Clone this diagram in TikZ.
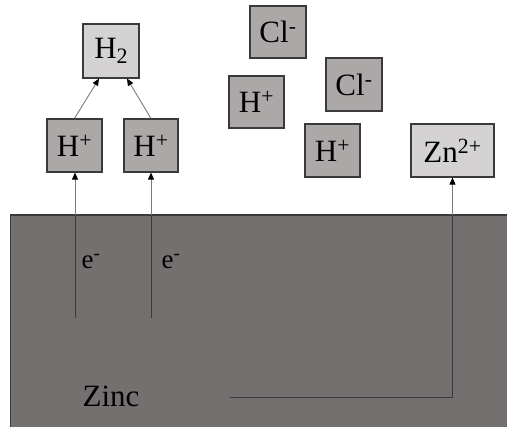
\documentclass[tikz,border=0pt]{standalone}
\usepackage{fontspec}
\setmainfont{Liberation Serif}
\usetikzlibrary{arrows.meta}
\definecolor{light}{HTML}{D4D2D2}
\definecolor{mid}{HTML}{ACA8A7}
\definecolor{zincc}{HTML}{74706F}
\definecolor{edge}{HTML}{3A3A3A}
\definecolor{arr}{HTML}{7A7A7A}
\tikzset{
  ion/.style={draw=edge, line width=1.2pt, inner sep=0pt, font=\fontsize{31}{36}\selectfont},
  lightion/.style={ion, fill=light},
  midion/.style={ion, fill=mid},
  tip/.style={-{Triangle[length=7pt,width=6pt,color=black]}},
  conn/.style={draw=arr, line width=0.9pt, tip},
  wire/.style={draw=edge, line width=0.9pt},
  lbl/.style={inner sep=0pt, font=\fontsize{27}{31}\selectfont},
}
\begin{document}
\begin{tikzpicture}[x=1pt,y=-1pt]
\useasboundingbox (0,0) rectangle (507,427);
\fill[white] (0,0) rectangle (507,427);
% zinc block
\path[fill=zincc, draw=edge, line width=1.5pt] (10.5,215) rectangle (515,435);
% ions
\node[lightion, minimum width=56pt, minimum height=54pt] (h2) at (111,51) {H\raisebox{-0.35ex}{\fontsize{22}{24}\selectfont 2}};
\node[midion, minimum width=55pt, minimum height=53pt] (hl) at (74.5,145.5) {H\textsuperscript{+}};
\node[midion, minimum width=54pt, minimum height=53pt] (hr) at (151,145.5) {H\textsuperscript{+}};
\node[midion, minimum width=56pt, minimum height=52pt] (cla) at (278,32) {Cl\textsuperscript{-}};
\node[midion, minimum width=55pt, minimum height=52pt] (hm) at (256.5,102) {H\textsuperscript{+}};
\node[midion, minimum width=56pt, minimum height=53pt] (clb) at (354,84.5) {Cl\textsuperscript{-}};
\node[midion, minimum width=55pt, minimum height=53pt] (hb) at (332.5,150.5) {H\textsuperscript{+}};
\node[lightion, minimum width=83pt, minimum height=53pt] (zn) at (452.5,150.5) {Zn\textsuperscript{2+}};
% H+ -> H2
\draw[conn] (hl.north) -- ([xshift=-12pt]h2.south);
\draw[conn] (hr.north) -- ([xshift=16pt]h2.south);
% electrons
\coordinate (e1) at (75,318);
\coordinate (e2) at (151,318);
\coordinate (t1) at (75,215);
\coordinate (t2) at (151,215);
\draw[wire] (e1) -- (t1);
\draw[wire] (e2) -- (t2);
\draw[conn] (t1) -- (t1 |- hl.south);
\draw[conn] (t2) -- (t2 |- hr.south);
\node[lbl] (el1) at (91,262) {e\textsuperscript{-}};
\node[lbl] (el2) at (171,262) {e\textsuperscript{-}};
% zinc label and Zn2+ path
\node[inner sep=0pt, font=\fontsize{31}{36}\selectfont] (zinc) at (111,396) {Zinc};
\coordinate (zs) at (230,397);
\coordinate (zt) at (452.5,215);
\draw[wire] (zs) -| (zt);
\draw[conn] (zt) -- (zn.south);
\end{tikzpicture}
\end{document}
